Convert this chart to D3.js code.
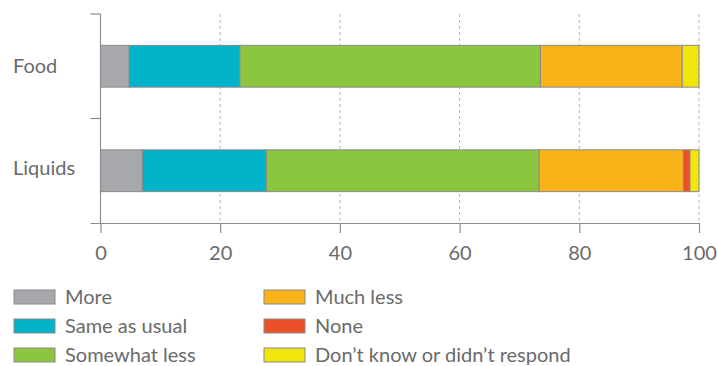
<!DOCTYPE html>
<html><head><meta charset="utf-8">
<script src="https://cdn.jsdelivr.net/npm/d3@7"></script>
<style>
body{margin:0;background:#fff;}
text{font-family:Lato,"Open Sans",sans-serif;}
</style></head>
<body><svg id="c" width="717" height="366"></svg>
<script>
const categories = ["Food", "Liquids"];
const seriesNames = ["More", "Same as usual", "Somewhat less", "Much less", "None", "Don\u2019t know or didn\u2019t respond"];
const more = [4.8, 7.0];
const sameAsUsual = [18.5, 20.7];
const somewhatLess = [50.2, 45.6];
const muchLess = [23.7, 24.1];
const none = [0, 1.1];
const dontKnow = [2.8, 1.5];
const xTicks = [0, 20, 40, 60, 80, 100];
const colors = ["#a7a8ab", "#00b3c9", "#8cc63f", "#f9b218", "#ea5129", "#f0e60c"];

const seriesValues = [more, sameAsUsual, somewhatLess, muchLess, none, dontKnow];
const rows = categories.map((c, i) => {
  const r = {cat: c};
  seriesNames.forEach((s, j) => r[s] = seriesValues[j][i]);
  return r;
});

const svg = d3.select("#c");
const x = d3.scaleLinear().domain([0, 100]).range([100.5, 699]);
const y = d3.scaleBand().domain(categories).range([14, 223]).paddingInner(0.6).paddingOuter(0.3);
const axisColor = "#8c8c8c";
const textColor = "#6a6a6a";
const fs = 20;

// gridlines
svg.append("g").selectAll("line").data(xTicks.slice(1)).join("line")
  .attr("x1", d => x(d)).attr("x2", d => x(d))
  .attr("y1", 14).attr("y2", 223)
  .attr("stroke", "#b5b5b5").attr("stroke-width", 1).attr("stroke-dasharray", "3,3");

// stacked bars
const stack = d3.stack().keys(seriesNames)(rows);
svg.append("g").selectAll("g").data(stack).join("g")
  .attr("fill", (d, i) => colors[i])
  .selectAll("rect").data(d => d.filter(p => p[1] - p[0] > 0)).join("rect")
  .attr("x", d => x(d[0])).attr("width", d => x(d[1]) - x(d[0]))
  .attr("y", d => y(d.data.cat)).attr("height", y.bandwidth())
  .attr("stroke", "#8a8a8a").attr("stroke-width", 1);

// y axis line and ticks at band boundaries
const step = y.step();
const bounds = [14, y(categories[0]) + y.bandwidth() + (step - y.bandwidth()) / 2];
svg.append("line").attr("x1", 100.5).attr("x2", 100.5).attr("y1", 14).attr("y2", 223)
  .attr("stroke", axisColor).attr("stroke-width", 1.2);
svg.append("g").selectAll("line").data(bounds).join("line")
  .attr("x1", 90.5).attr("x2", 100.5).attr("y1", d => d).attr("y2", d => d)
  .attr("stroke", axisColor).attr("stroke-width", 1.2);

// category labels
svg.append("g").selectAll("text").data(categories).join("text")
  .attr("x", 13).attr("y", (d, i) => y(d) + y.bandwidth() / 2 - (i === 0 ? 0 : 3))
  .attr("dy", "0.35em").attr("font-size", fs).attr("fill", textColor)
  .text(d => d);

// x axis
const xAxis = d3.axisBottom(x).tickValues(xTicks).tickSize(10).tickPadding(13);
const gx = svg.append("g").attr("transform", "translate(0,223)").call(xAxis);
gx.select(".domain").attr("d", "M90.5,0.5H699").attr("stroke", axisColor).attr("stroke-width", 1.2);
gx.selectAll(".tick line").attr("stroke", axisColor).attr("stroke-width", 1.2);
gx.selectAll(".tick text").attr("font-size", fs).attr("fill", textColor).attr("font-family", "Lato,'Open Sans',sans-serif");

// legend
const lg = svg.append("g");
seriesNames.forEach((s, i) => {
  const col = Math.floor(i / 3), row = i % 3;
  const gx0 = 14 + col * 250, gy = 297 + row * 29;
  lg.append("rect").attr("x", gx0).attr("y", gy - 7).attr("width", 41).attr("height", 14)
    .attr("fill", colors[i]).attr("stroke", "#8a8a8a").attr("stroke-width", 1);
  lg.append("text").attr("x", gx0 + 51).attr("y", gy).attr("dy", "0.35em")
    .attr("font-size", fs).attr("fill", textColor).text(s);
});
</script></body></html>
